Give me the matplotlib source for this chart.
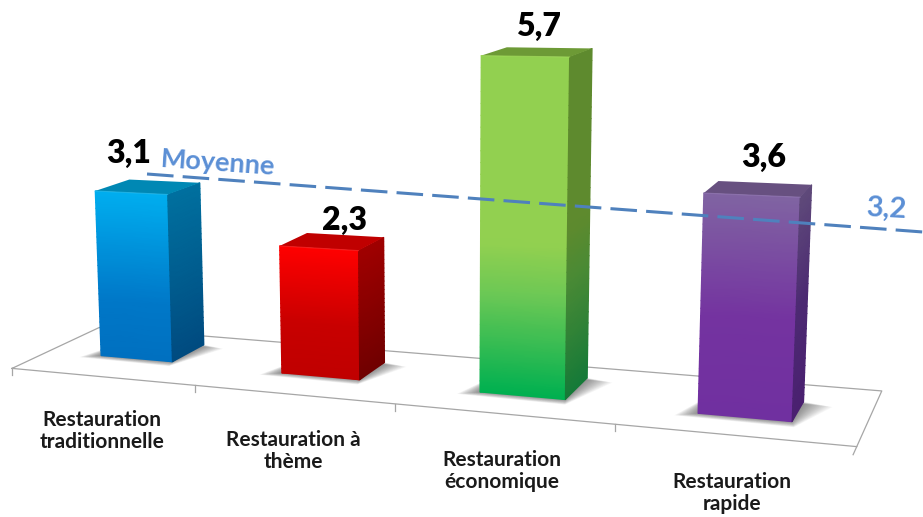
import numpy as np
import matplotlib
matplotlib.use("Agg")
import matplotlib.pyplot as plt
from matplotlib.colors import LinearSegmentedColormap

plt.rcParams["font.family"] = ["Lato", "DejaVu Sans"]

categories = ["Restauration\ntraditionnelle", "Restauration à\nthème", "Restauration\néconomique", "Restauration\nrapide"]
values = [3.1, 2.3, 5.7, 3.6]
value_labels = ["3,1", "2,3", "5,7", "3,6"]
mean_label = "3,2"
mean_name = "Moyenne"

# colours, from bottom to top of each face
front_cols = [
    [(0, "#0070C0"), (0.35, "#0078C8"), (1, "#00AEEF")],
    [(0, "#C00000"), (0.4, "#C80000"), (1, "#FF0000")],
    [(0, "#00B050"), (0.3, "#6CC855"), (0.45, "#92D050"), (1, "#92D050")],
    [(0, "#7030A0"), (0.45, "#7433A0"), (1, "#8064A2")],
]
side_cols = [
    [(0, "#004B80"), (1, "#00709F")],
    [(0, "#700000"), (1, "#A00000")],
    [(0, "#157A38"), (0.35, "#4A8A35"), (0.5, "#5E8A2E"), (1, "#5E8A2E")],
    [(0, "#4A2070"), (0.5, "#4C2A72"), (1, "#5F4A7A")],
]
top_cols = ["#0088B4", "#C00000", "#6D9A36", "#675080"]
edge_cols = ["#30C0F0", "#FF3030", "#A8E060", "#9A7FBC"]

# camera fitted on the picture: (category, depth, value) -> pixel
P = np.array([
    [174.860557, 95.544465, -2.45, 12.046514],
    [0.625374, -13.103972, -55.3, 368.39467],
    [-0.042385, 0.08477, -0.0055, 1.0],
])


def project(x, y, z=0):
    x, y, z = np.broadcast_arrays(np.asarray(x, float), np.asarray(y, float), np.asarray(z, float))
    w = P[2, 0] * x + P[2, 1] * y + P[2, 2] * z + P[2, 3]
    px = (P[0, 0] * x + P[0, 1] * y + P[0, 2] * z + P[0, 3]) / w
    py = (P[1, 0] * x + P[1, 1] * y + P[1, 2] * z + P[1, 3]) / w
    return px, py


def face(ax, xs, ys, zs, stops):
    cmap = LinearSegmentedColormap.from_list("f", stops)
    px, py = project(xs, ys, zs)
    c = np.linspace(0, 1, zs.shape[0])[:, None] * np.ones(zs.shape)
    ax.pcolormesh(px, py, c, cmap=cmap, vmin=0, vmax=1, shading="gouraud", zorder=3, rasterized=True)


fig = plt.figure(figsize=(9.23, 5.17), dpi=100)
ax = fig.add_axes([0, 0, 1, 1])
ax.set_xlim(0, 923)
ax.set_ylim(517, 0)
ax.axis("off")

# floor
grey = "#A6A6A6"
fx, fy = project([0, 4, 4, 0, 0], [0, 0, 1, 1, 0], 0)
ax.plot(fx, fy, color=grey, lw=0.9, zorder=1)
for t in range(4):
    tx, ty = project(t, 0, 0)
    ax.plot([tx, tx], [ty, ty + 7], color=grey, lw=0.9, zorder=1)
# right edge runs on a bit past the front corner
ex, ey = project([4, 4], [0, -0.13], 0)
ax.plot(ex, ey, color=grey, lw=0.9, zorder=1)

width = 0.4
depth0 = [0.405, 0.375, 0.345, 0.31]
depth1 = [0.81, 0.755, 0.785, 0.677]
for i, z in enumerate(values):
    x0, x1 = i + 0.5 - width / 2, i + 0.5 + width / 2
    d0, d1 = depth0[i], depth1[i]

    # soft shadow on the floor
    for e in np.linspace(1, 0, 18):
        sx, sy = project(
            [x0 - 0.09 * e, x1 + 0.02 * e, x1 + 0.13 * e, x0],
            [d0 - 0.07 * e, d0 - 0.09 * e, d1 - 0.05 * e, d1],
            0,
        )
        ax.fill(sx, sy, color="#303030", alpha=0.04, lw=0, zorder=2)

    zz = np.linspace(0, z, 30)
    s = np.linspace(0, 1, 2)
    # front
    xs = (x0 + (x1 - x0) * s)[None, :] * np.ones((30, 2))
    zs = zz[:, None] * np.ones((30, 2))
    face(ax, xs, np.full((30, 2), d0), zs, front_cols[i])
    # side
    ys = (d0 + (d1 - d0) * s)[None, :] * np.ones((30, 2))
    face(ax, np.full((30, 2), x1), ys, zs, side_cols[i])
    # top
    tx, ty = project([x0, x1, x1, x0], [d0, d0, d1, d1], z)
    ax.fill(tx, ty, color=top_cols[i], lw=0, zorder=3)
    # bevel highlight along the front top edge
    hx, hy = project([x0, x1], [d0, d0], [z, z])
    ax.plot(hx, hy, color=edge_cols[i], lw=0.8, alpha=0.6, zorder=4)

    # value on top of the bar
    cx, cy = project(i + 0.5, (d0 + d1) / 2, z)
    dx = [-19, 12, 1, 6][i]
    dy = [-33, -21, -26, -31][i]
    ax.text(cx + dx, cy + dy, value_labels[i], fontsize=23, fontweight="heavy", color="black",
            ha="center", va="center", zorder=6)

# mean line sits over the bars
ax.plot([147, 923], [174, 232], color="#4F81BD", lw=2.2, dashes=(8.7, 3), dash_capstyle="butt", zorder=5)
ax.text(218, 163, mean_name, fontsize=19.5, fontweight="bold", color="#5B8FD5", rotation=-4,
        ha="center", va="center", rotation_mode="anchor", zorder=6)
ax.text(887, 209, mean_label, fontsize=21, fontweight="bold", color="#5B8FD5", rotation=-3,
        ha="center", va="center", rotation_mode="anchor", zorder=6)

# category labels
label_x = [102, 293, 502, 732]
label_y = [431, 451, 471, 493]
for name, lx, ly in zip(categories, label_x, label_y):
    ax.text(lx, ly, name, fontsize=15, fontweight="bold", color="#1A1A1A", ha="center", va="center",
            linespacing=1.12, zorder=6)

fig.savefig("out.png", dpi=100)
